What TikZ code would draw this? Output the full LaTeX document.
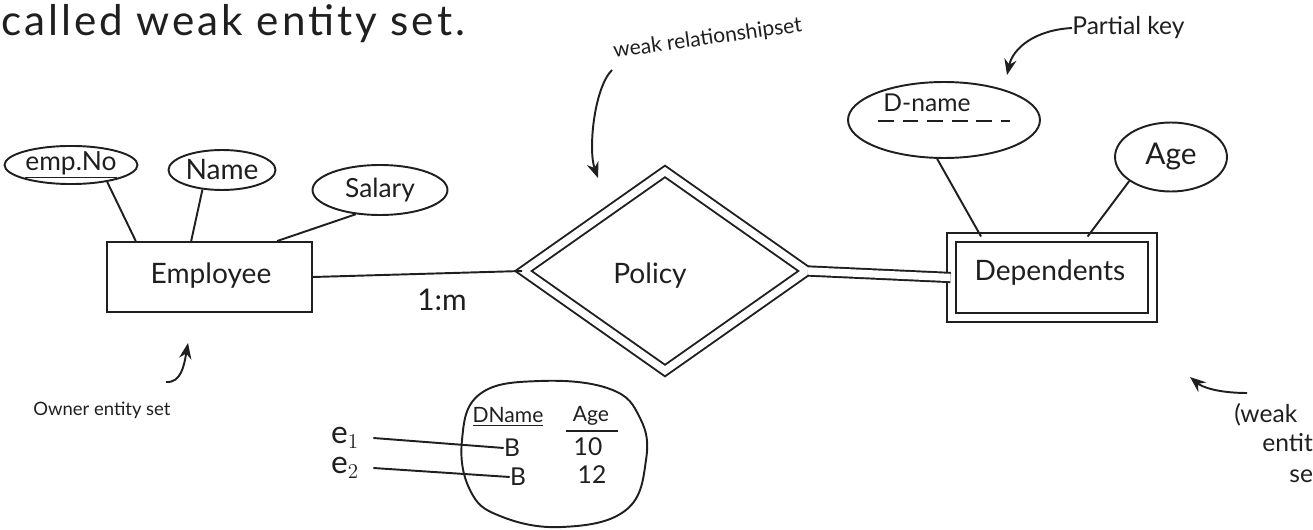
\documentclass[tikz,border=0pt]{standalone}
\usepackage{fontspec}
\setmainfont{Lato}
\usetikzlibrary{shapes.geometric,arrows.meta,calc}
\begin{document}
\begin{tikzpicture}[x=0.02cm,y=-0.02cm]
\tikzset{
  ink/.style={line width=1.1pt, draw=black!88},
  attr/.style={ink, draw, ellipse, inner sep=0pt, text=black!88, font=\fontsize{15}{17}\selectfont},
  entity/.style={ink, draw, rectangle, inner sep=0pt},
  weakbox/.style={ink, draw, double, double distance=4.2pt, inner sep=0pt},
  tag/.style={text=black!88, inner sep=0pt, font=\fontsize{16}{18}\selectfont},
  small/.style={text=black!88, inner sep=0pt, font=\fontsize{12}{14}\selectfont},
  tiny/.style={text=black!88, inner sep=0pt, font=\fontsize{10.5}{12}\selectfont},
  pointer/.style={ink, -{Stealth[length=9pt,width=7pt]}},
}
\useasboundingbox (0,0) rectangle (1313,530);
\clip (0,0) rectangle (1313,530);

% heading line
\node[tag, anchor=base west, font=\fontsize{24}{28}\selectfont\addfontfeature{LetterSpace=7}] (head) at (1,36) {called weak entity set.};

% owner entity set with its attributes
\node[entity, minimum width=4.1cm, minimum height=1.4cm] (emp) at (209.5,277) {};
\node[tag] (empt) at (211,276) {Employee};
\node[attr, minimum width=2.66cm, minimum height=0.66cm] (empno) at (71,165) {\underline{emp.No}};
\node[attr, minimum width=2.14cm, minimum height=0.8cm, font=\fontsize{16}{18}\selectfont] (name) at (222,170) {Name};
\node[attr, minimum width=2.7cm, minimum height=1.0cm] (salary) at (380,190) {Salary};
\draw[ink] (empno.-25) -- (emp.154);
\draw[ink] (name.-135) -- (emp.117);
\draw[ink] (salary.-135) -- (emp.28);

% identifying relationship
\node[weakbox, diamond, minimum width=5.68cm, minimum height=4.0cm] (policy) at (665,271) {};
\node[tag] (policyt) at (650,276) {Policy};
\draw[ink] (emp.east) -- (policy.west);
\node[tag, font=\fontsize{17}{19}\selectfont] (card) at (442,300) {1:m};

% weak entity set with its attributes
\node[weakbox, minimum width=4.02cm, minimum height=1.6cm] (dep) at (1052,277.5) {};
\node[tag] (dept) at (1050,273) {Dependents};
\draw[ink, double, double distance=4.2pt] (policy.east) -- (dep.west);
\node[attr, minimum width=3.84cm, minimum height=1.52cm] (dname) at (944,120) {};
\node[small, font=\fontsize{14}{16}\selectfont] (dnamet) at (927,103) {D-name};
\draw[ink, dashed, dash pattern=on 9pt off 5pt] (878,121) -- (1010,121);
\node[attr, minimum width=2.24cm, minimum height=1.38cm, font=\fontsize{17}{19}\selectfont] (age) at (1171,157) {Age};
\draw[ink] (dname.-100) -- (dep.150);
\draw[ink] (age.-150) -- (dep.49);

% annotations
\node[small, anchor=base west, rotate=8] (wrs) at (614,58) {weak relationshipset};
\draw[pointer] (612,70) .. controls (594,88) and (588,150) .. (598,178);
\node[small, font=\fontsize{14}{16}\selectfont, anchor=west] (pk) at (1072,28) {Partial key};
\draw[pointer] (pk.west) .. controls (1035,30) and (1013,48) .. (1007,75);
\node[tiny, anchor=base west] (owner) at (33,416) {Owner entity set};
\draw[pointer] (166,382) .. controls (181,383) and (184,366) .. (188,343);
\coordinate (wtail) at (1247,393);
\draw[pointer] (wtail) .. controls (1218,393) and (1202,387) .. (1190,377);
\node[small, font=\fontsize{14}{16}\selectfont, anchor=base west] (w1) at (1234,423) {(weak};
\node[small, font=\fontsize{14}{16}\selectfont, anchor=base west] (w2) at (1262,452) {entity};
\node[small, font=\fontsize{14}{16}\selectfont, anchor=base west] (w3) at (1289,482) {set)};

% sample instances of the weak entity set
\draw[ink] plot[smooth cycle, tension=0.7] coordinates {(480,394) (540,381) (610,389) (640,418) (646,460) (626,510) (562,527) (500,516) (470,490) (462,440)};
\node[small] (dnh) at (508,417) {\underline{DName}};
\node[small] (agh) at (591,416) {Age};
\draw[ink, line width=0.8pt] (566,431) -- (618,431);
\node[small, font=\fontsize{14}{16}\selectfont] (b1) at (512,448) {B};
\node[small, font=\fontsize{14}{16}\selectfont] (a1) at (588,447) {10};
\node[small, font=\fontsize{14}{16}\selectfont] (b2) at (518,477) {B};
\node[small, font=\fontsize{14}{16}\selectfont] (a2) at (592,475) {12};
\node[tag, font=\fontsize{18}{20}\selectfont] (e1) at (345,438) {e$_1$};
\node[tag, font=\fontsize{18}{20}\selectfont] (e2) at (345,468) {e$_2$};
\draw[ink] ([xshift=8pt]e1.east) -- (b1.west);
\draw[ink] ([xshift=8pt]e2.east) -- (b2.west);
\end{tikzpicture}
\end{document}
